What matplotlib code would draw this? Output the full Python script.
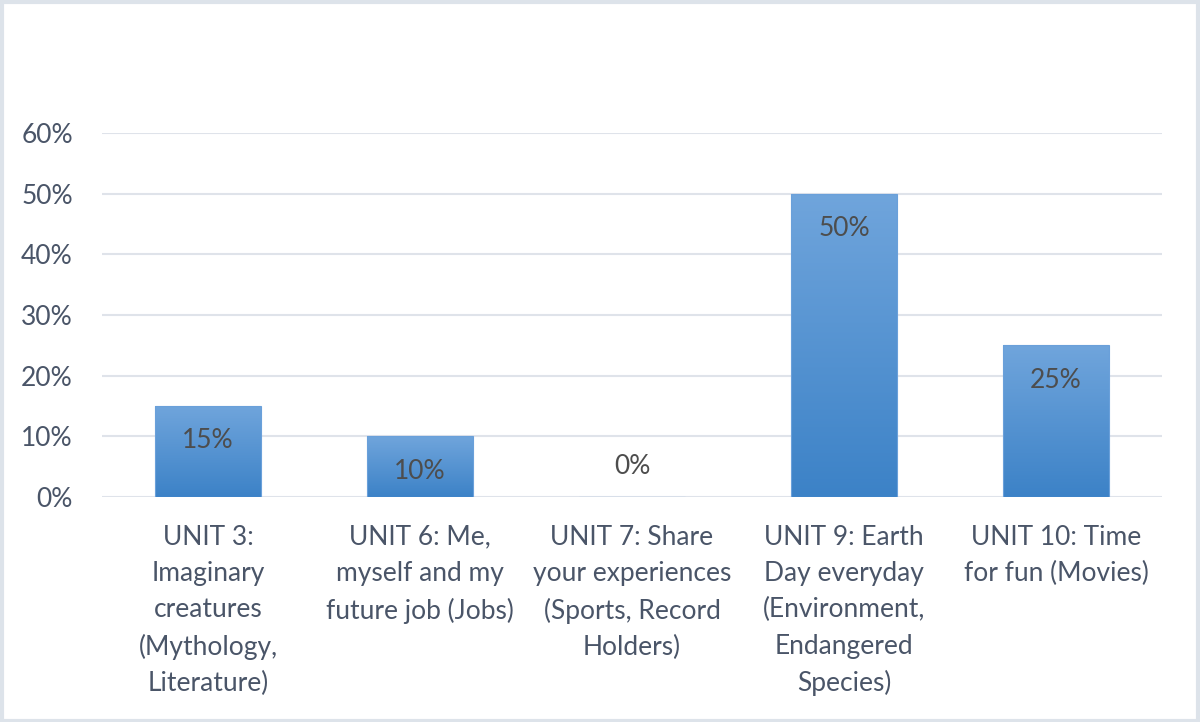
import numpy as np
import matplotlib
matplotlib.use("Agg")
from matplotlib import pyplot as plt
from matplotlib.patches import Rectangle

categories = [
    "UNIT 3:\nImaginary\ncreatures\n(Mythology,\nLiterature)",
    "UNIT 6: Me,\nmyself and my\nfuture job (Jobs)",
    "UNIT 7: Share\nyour experiences\n(Sports, Record\nHolders)",
    "UNIT 9: Earth\nDay everyday\n(Environment,\nEndangered\nSpecies)",
    "UNIT 10: Time\nfor fun (Movies)",
]
values = [0.15, 0.10, 0.0, 0.50, 0.25]
yticks = [0, 0.1, 0.2, 0.3, 0.4, 0.5, 0.6]

plt.rcParams['font.family'] = ['Lato', 'DejaVu Sans']
text_col = '#4a5568'
label_col = '#4d4d4d'
grid_col = '#dfe3ea'
fs = 19

fig = plt.figure(figsize=(12, 7.22), dpi=100)
fig.patch.set_facecolor('white')
# outer frame
fig.add_artist(Rectangle((0.0015, 0.002), 0.997, 0.995, transform=fig.transFigure,
                         fill=False, edgecolor='#dde3ea', linewidth=3))

ax = fig.add_axes([102 / 1200, 1 - 497 / 722, (1162 - 102) / 1200, (497 - 133) / 722])
x = np.arange(len(values))

# gradient fill for bars
grad = np.linspace(0, 1, 256).reshape(-1, 1)
top = np.array([0x70, 0xa5, 0xdc]) / 255
bot = np.array([0x3c, 0x82, 0xc7]) / 255
img = bot[None, None, :] * (1 - grad[..., None]) + top[None, None, :] * grad[..., None]

bars = ax.bar(x, values, width=0.5, color='none', edgecolor='#6aa0da', linewidth=0.8, zorder=3)
for b, v in zip(bars, values):
    if v <= 0:
        continue
    x0, w = b.get_x(), b.get_width()
    im = ax.imshow(img, extent=(x0, x0 + w, 0, v), origin='lower', aspect='auto', zorder=2)
    im.set_clip_path(b)

ax.set_xlim(-0.5, len(values) - 0.5)
ax.set_ylim(0, 0.6)

for xi, v in zip(x, values):
    off = -35 if v > 0 else 31
    ax.annotate(f"{v:.0%}", (xi, v), xytext=(0, off), textcoords='offset pixels',
                ha='center', va='center', fontsize=fs, color=label_col, zorder=4)

ax.set_yticks(yticks)
ax.set_yticklabels([f"{t:.0%}" for t in yticks])
ax.yaxis.grid(True, color=grid_col, linewidth=1.5, zorder=0)
ax.set_axisbelow(True)
ax.set_xticks(x)
ax.set_xticklabels(categories, linespacing=1.56)
ax.tick_params(axis='both', length=0, labelsize=fs, colors=text_col)
ax.tick_params(axis='x', pad=20)
ax.tick_params(axis='y', pad=21)
for sp in ax.spines.values():
    sp.set_visible(False)

fig.savefig("out.png", dpi=100, facecolor='white')
